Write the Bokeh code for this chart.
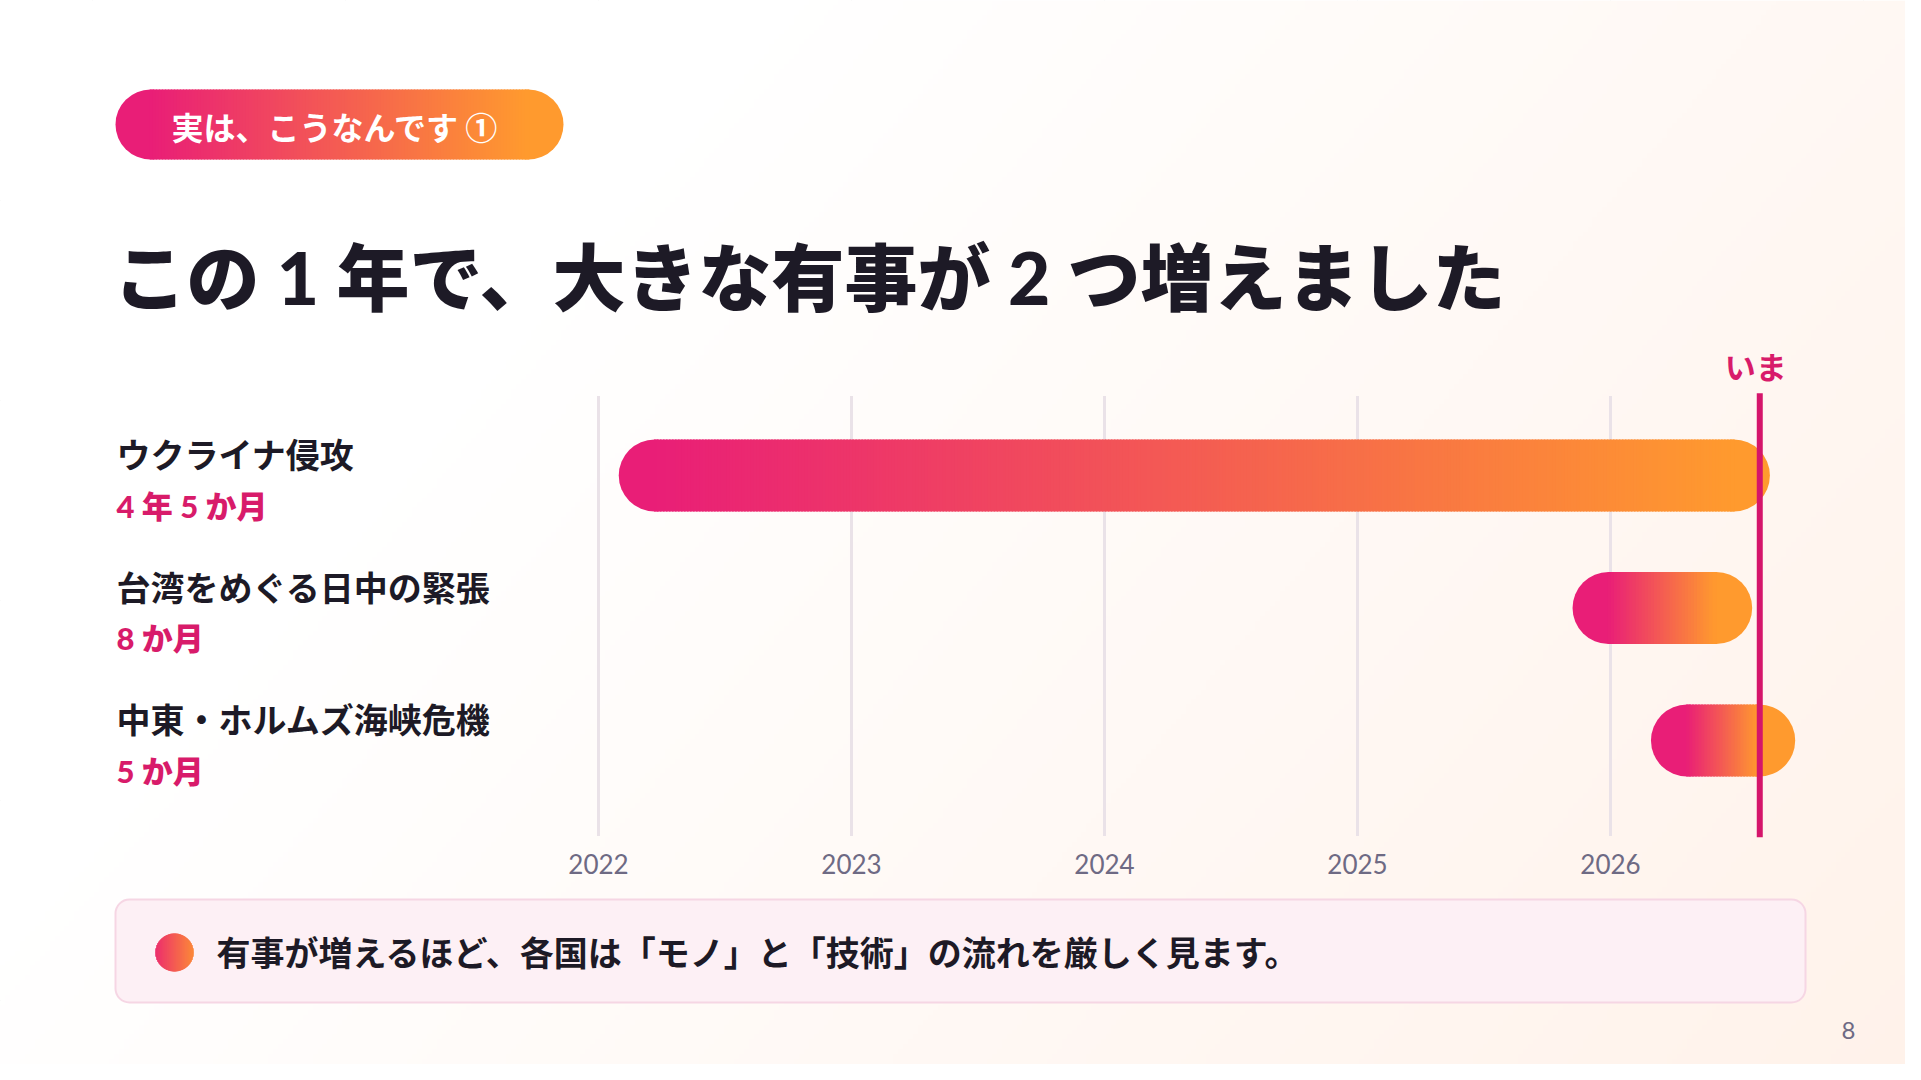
import numpy as np
from bokeh.plotting import figure
from bokeh.models import Range1d
from bokeh.core.properties import value
from bokeh.embed import file_html
from bokeh.resources import INLINE

# ---------------- data ----------------
events = ["ウクライナ侵攻", "台湾をめぐる日中の緊張", "中東・ホルムズ海峡危機"]
durations = ["4 年 5 か月", "8 か月", "5 か月"]
starts = [2022.08, 2025.85, 2026.16]
ends = [2026.63, 2026.56, 2026.73]
now_year = 2026.59
now_label = "いま"
year_ticks = [2022, 2023, 2024, 2025, 2026]
tick_labels = ["2022", "2023", "2024", "2025", "2026"]
badge_text = "実は、こうなんです ①"
title_text = "この 1 年で、大きな有事が 2 つ増えました"
note_text = "有事が増えるほど、各国は「モノ」と「技術」の流れを厳しく見ます。"
page_no = "8"

# ---------------- layout constants ----------------
W, H = 1905, 1064
X2022 = 598                # px where the 2022 tick sits
PPY = 253.0                # px per year
ROW0 = 475                 # px of first row centre
ROW_GAP = 132.5
GRID_TOP, GRID_BOT = -0.6, 2.72   # in row units
NOW_TOP, NOW_BOT = -0.62, 2.73
BAR_H = 72

JP = value("Lato, Noto Sans CJK JP")
JPONLY = value("Noto Sans CJK JP")
HEAVY = value("Lato Black, Noto Sans CJK JP Black, Noto Sans CJK JP")
LATO = value("Lato")
DARK = "#1D1A26"
PINKTXT = "#D81B6A"
GREY = "#6E6A84"

PINK = np.array([233, 30, 119])
ORANGE = np.array([255, 154, 46])


def grad(t):
    c = PINK * (1 - t) + ORANGE * t
    return "#%02x%02x%02x" % tuple(int(round(v)) for v in c)


p = figure(width=W, height=H, output_backend="svg", toolbar_location=None,
           x_axis_location=None, y_axis_location=None,
           x_range=Range1d(2022 - X2022 / PPY, 2022 + (W - X2022) / PPY),
           y_range=Range1d(H, 0), min_border=0)
p.outline_line_color = None
p.background_fill_color = "white"
p.border_fill_color = "white"
p.extra_x_ranges = {"px": Range1d(0, W), "u": Range1d(0, 1)}
p.extra_y_ranges = {"rows": Range1d((H - ROW0) / ROW_GAP, (0 - ROW0) / ROW_GAP),
                    "v": Range1d(0, 1)}

# ---------------- background gradient ----------------
ny, nx = 216, 384
U = ((np.arange(nx) + 0.5) / nx)[None, :]
V = (1 - (np.arange(ny) + 0.5) / ny)[:, None]
s = np.clip((0.75 * U + 0.35 * V - 0.3) / 0.8, 0, 1)
img = np.zeros((ny, nx), dtype=np.uint32)
view = img.view(dtype=np.uint8).reshape((ny, nx, 4))
end_c = np.array([255, 242, 234])
for k in range(3):
    view[:, :, k] = np.round(255 * (1 - s) + end_c[k] * s).astype(np.uint8)
view[:, :, 3] = 255
p.image_rgba(image=[img], x=0, y=0, dw=1, dh=1, x_range_name="u", y_range_name="v")


def pill(L, R, r_data, ppu, step_px=3.0):
    cl, cr = L + r_data, R - r_data
    n = max(6, int((cr - cl) * ppu / step_px))
    dx = (cr - cl) / n
    xs = [cl + (k + 0.5) * dx for k in range(n)]
    cols = [grad((k + 0.5) / n) for k in range(n)]
    return cl, cr, xs, dx * 1.5, cols


# ---------------- badge ----------------
bl, br, bxs, bw, bcols = pill(115, 563, 35, 1.0)
p.scatter([bl, br], [124] * 2, size=70, marker="circle",
          color=[grad(0), grad(1)], line_color=None, x_range_name="px")
p.rect(x=bxs, y=[124] * len(bxs), width=bw, height=70, height_units="screen",
       color=bcols, line_color=None, x_range_name="px")
p.text(x=[171], y=[125], text=[badge_text], x_range_name="px",
       text_font=JPONLY, text_font_style="bold", text_font_size="32px",
       text_color="white", text_align="left", text_baseline="middle")

# ---------------- title ----------------
p.text(x=[113], y=[276], text=[title_text], x_range_name="px",
       text_font=HEAVY, text_font_style="bold", text_font_size="73px",
       text_color=DARK, text_align="left", text_baseline="middle")

# ---------------- grid ----------------
p.segment(x0=year_ticks, x1=year_ticks, y0=[GRID_TOP] * len(year_ticks),
          y1=[GRID_BOT] * len(year_ticks), y_range_name="rows",
          line_color="#EAE2E8", line_width=3)
p.text(x=year_ticks, y=[863] * len(year_ticks), text=tick_labels,
       text_font=LATO, text_font_size="26px", text_color=GREY,
       text_align="center", text_baseline="middle")

# ---------------- bars ----------------
r_years = (BAR_H / 2) / PPY
cap_x, cap_y, cap_c = [], [], []
sx, sy, sw, sc = [], [], [], []
for i, (a, b) in enumerate(zip(starts, ends)):
    cl, cr, xs, w, cols = pill(a, b, r_years, PPY)
    cap_x += [cl, cr]
    cap_y += [i, i]
    cap_c += [grad(0), grad(1)]
    sx += xs
    sy += [i] * len(xs)
    sw += [w] * len(xs)
    sc += cols
p.scatter(cap_x, cap_y, size=BAR_H, marker="circle", color=cap_c, line_color=None,
          y_range_name="rows")
p.rect(x=sx, y=sy, width=sw, height=BAR_H, height_units="screen", color=sc,
       line_color=None, y_range_name="rows")

# row labels
rows = list(range(len(events)))
p.text(x=[116] * 3, y=rows, text=events, y_offset=-21, x_range_name="px",
       y_range_name="rows", text_font=JP, text_font_style="bold",
       text_font_size="34px", text_color=DARK, text_align="left",
       text_baseline="middle")
p.text(x=[116] * 3, y=rows, text=durations, y_offset=30, x_range_name="px",
       y_range_name="rows", text_font=HEAVY, text_font_style="bold",
       text_font_size="31px", text_color=PINKTXT, text_align="left",
       text_baseline="middle")

# now line
p.segment(x0=[now_year], x1=[now_year], y0=[NOW_TOP], y1=[NOW_BOT],
          y_range_name="rows", line_color="#D5156B", line_width=6)
p.text(x=[now_year], y=[365], text=[now_label], x_offset=-4, text_font=JPONLY,
       text_font_style="bold", text_font_size="31px", text_color=PINKTXT,
       text_align="center", text_baseline="middle")

# ---------------- callout ----------------
p.quad(left=[115], right=[1805], top=[899], bottom=[1002],
       border_radius=14, fill_color="#FDF0F5", line_color="#F6D6E4", line_width=2,
       x_range_name="px")
cx, cy, rr = 174, 952, 19.0
p.scatter([cx], [cy], size=2 * rr, marker="circle", color=grad(0.5), line_color=None,
          x_range_name="px")
dxs = [cx - rr + k + 0.5 for k in range(int(2 * rr))]
dhs = [2 * np.sqrt(max(rr ** 2 - (x - cx) ** 2, 0)) for x in dxs]
p.rect(x=dxs, y=[cy] * len(dxs), width=1.4, height=dhs,
       color=[grad(0.1 + 0.8 * k / len(dxs)) for k in range(len(dxs))],
       line_color=None, x_range_name="px")
p.text(x=[216], y=[952], text=[note_text], x_range_name="px",
       text_font=JP, text_font_style="bold", text_font_size="34px",
       text_color=DARK, text_align="left", text_baseline="middle")

# page number
p.text(x=[1848], y=[1030], text=[page_no], x_range_name="px",
       text_font=LATO, text_font_size="24px", text_color=GREY,
       text_align="center", text_baseline="middle")

open("out.html", "w").write(file_html(p, INLINE))
